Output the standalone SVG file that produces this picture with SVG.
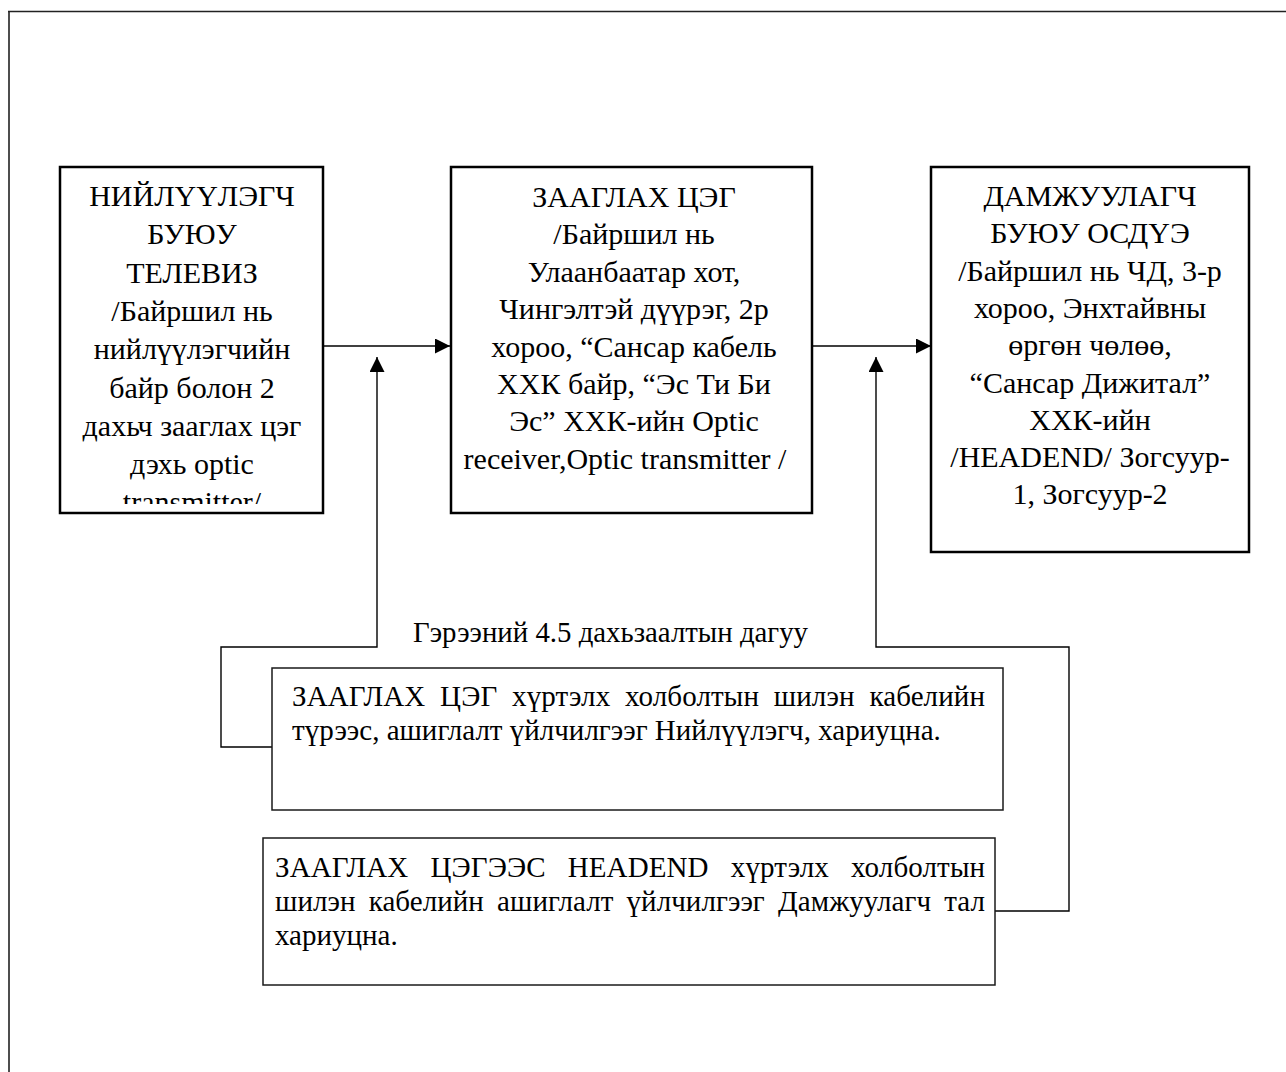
<svg xmlns="http://www.w3.org/2000/svg" width="1286" height="1072" viewBox="0 0 1286 1072">
<style>
.bx{fill:#fff;stroke:#000;stroke-width:2.5}
.lb{fill:#fff;stroke:#1a1a1a;stroke-width:1.5}
.t{font-family:"Liberation Serif","Times New Roman",serif;font-size:30px;fill:#000;text-anchor:middle}
.s{font-family:"Liberation Serif","Times New Roman",serif;font-size:29px;fill:#000}
.c{fill:none;stroke:#000;stroke-width:1.4}
</style>
<defs>
<marker id="ah" markerUnits="userSpaceOnUse" markerWidth="15" markerHeight="15" refX="15" refY="7.5" orient="auto">
<path d="M0,0 L15,7.5 L0,15 z" fill="#000"/>
</marker>
<clipPath id="clipL"><rect x="60" y="167" width="263" height="337"/></clipPath>
</defs>
<rect width="1286" height="1072" fill="#fff"/>
<path d="M9,1072 V11.5" stroke="#4d4d4d" stroke-width="2" fill="none"/>
<path d="M8,11.5 H1286" stroke="#222" stroke-width="1.3" fill="none"/>

<g id="connectors">
<line class="c" x1="323" y1="346" x2="450" y2="346" marker-end="url(#ah)"/>
<line class="c" x1="812" y1="346" x2="931" y2="346" marker-end="url(#ah)"/>
<path class="c" d="M272,747 H221 V647 H377 V357" marker-end="url(#ah)"/>
<path class="c" d="M995,911 H1069 V647 H876 V357" marker-end="url(#ah)"/>
</g>

<g id="node-left">
<rect class="bx" x="60" y="167" width="263" height="346"/>
<g clip-path="url(#clipL)">
<text class="t" x="192" y="206">НИЙЛҮҮЛЭГЧ</text>
<text class="t" x="192" y="244.3">БУЮУ</text>
<text class="t" x="192" y="282.6">ТЕЛЕВИЗ</text>
<text class="t" x="192" y="320.9">/Байршил нь</text>
<text class="t" x="192" y="359.2">нийлүүлэгчийн</text>
<text class="t" x="192" y="397.5">байр болон 2</text>
<text class="t" x="192" y="435.8">дахьч зааглах цэг</text>
<text class="t" x="192" y="474.1">дэхь optic</text>
<text class="t" x="192" y="512.4">transmitter/</text>
</g>
</g>

<g id="node-middle">
<rect class="bx" x="451" y="167" width="361" height="346"/>
<text class="t" x="634" y="207">ЗААГЛАХ ЦЭГ</text>
<text class="t" x="634" y="244.4">/Байршил нь</text>
<text class="t" x="634" y="281.8">Улаанбаатар хот,</text>
<text class="t" x="634" y="319.2">Чингэлтэй дүүрэг, 2р</text>
<text class="t" x="634" y="356.6">хороо, “Сансар кабель</text>
<text class="t" x="634" y="394">ХХК байр, “Эс Ти Би</text>
<text class="t" x="634" y="431.4">Эс” ХХК-ийн Optic</text>
<text class="t" x="625" y="468.8">receiver,Optic transmitter /</text>
</g>

<g id="node-right">
<rect class="bx" x="931" y="167" width="318" height="385"/>
<text class="t" x="1090" y="206">ДАМЖУУЛАГЧ</text>
<text class="t" x="1090" y="243.3">БУЮУ ОСДҮЭ</text>
<text class="t" x="1090" y="280.6">/Байршил нь ЧД, 3-р</text>
<text class="t" x="1090" y="317.9">хороо, Энхтайвны</text>
<text class="t" x="1090" y="355.2">өргөн чөлөө,</text>
<text class="t" x="1090" y="392.5">“Сансар Дижитал”</text>
<text class="t" x="1090" y="429.8">ХХК-ийн</text>
<text class="t" x="1090" y="467.1">/HEADEND/ Зогсуур-</text>
<text class="t" x="1090" y="504.4">1, Зогсуур-2</text>
</g>

<g id="label-contract">
<text class="s" x="413" y="642" textLength="395" lengthAdjust="spacingAndGlyphs">Гэрээний 4.5 дахьзаалтын дагуу</text>
</g>

<g id="node-lower-1">
<rect class="lb" x="272" y="668" width="731" height="142"/>
<text class="s" x="292" y="706" word-spacing="7.4" textLength="693" lengthAdjust="spacing">ЗААГЛАХ ЦЭГ хүртэлх холболтын шилэн кабелийн</text>
<text class="s" x="292" y="740">түрээс, ашиглалт үйлчилгээг Нийлүүлэгч, хариуцна.</text>
</g>

<g id="node-lower-2">
<rect class="lb" x="263" y="838" width="732" height="147"/>
<text class="s" x="275" y="877" word-spacing="14.8" textLength="710" lengthAdjust="spacing">ЗААГЛАХ ЦЭГЭЭС HEADEND хүртэлх холболтын</text>
<text class="s" x="275" y="911" word-spacing="5.9" textLength="710" lengthAdjust="spacing">шилэн кабелийн ашиглалт үйлчилгээг Дамжуулагч тал</text>
<text class="s" x="275" y="945">хариуцна.</text>
</g>
</svg>
